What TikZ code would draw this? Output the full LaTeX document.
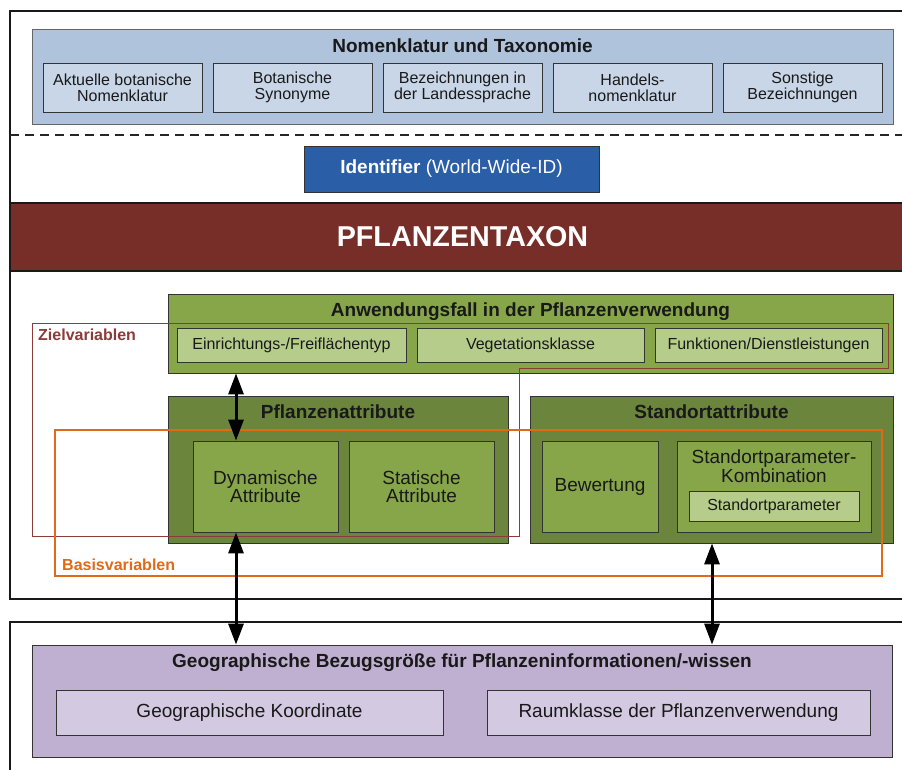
\documentclass[tikz,border=0pt]{standalone}
\usepackage{fontspec}
\setmainfont{Liberation Sans}
\usetikzlibrary{arrows.meta}
\definecolor{nomout}{HTML}{B0C3DD}
\definecolor{nomin}{HTML}{C8D6E8}
\definecolor{idblue}{HTML}{2A5EA6}
\definecolor{taxred}{HTML}{772E28}
\definecolor{grnmid}{HTML}{87A64A}
\definecolor{grnlight}{HTML}{B5CC8A}
\definecolor{grndark}{HTML}{6C853C}
\definecolor{purout}{HTML}{BFAFD0}
\definecolor{purin}{HTML}{D3C9E1}
\definecolor{zielc}{HTML}{8C3B38}
\definecolor{basisc}{HTML}{E06A18}
\newcommand\myS{\fontsize{16}{16.2}\selectfont}
\newcommand\myM{\fontsize{19}{18.5}\selectfont}
\newcommand\myB{\fontsize{28.7}{30}\selectfont}
\begin{document}
\begin{tikzpicture}[x=1pt,y=-1pt,
  box/.style={draw=black!80, line width=0.8pt, inner sep=0pt, align=center, text=black!90},
  titletext/.style={inner sep=0pt, font=\myM\bfseries, text=black!90},
  frameline/.style={line width=1.6pt, black!90},
  dblarrow/.style={line width=3pt, {Triangle[length=21pt,width=15pt]}-{Triangle[length=21pt,width=15pt]}},
  onearrow/.style={line width=3pt, -{Triangle[length=21pt,width=15pt]}}
]
\useasboundingbox (0,0) rectangle (902,769);
\fill[white] (0,0) rectangle (902,769);

% frames
\draw[frameline] (910,11) -- (10,11) -- (10,599) -- (910,599);
\draw[frameline] (910,622) -- (10,622) -- (10,775);
\draw[line width=1.2pt, dash pattern=on 9pt off 6pt, black!85] (10,135) -- (910,135);

% Nomenklatur
\node[box, draw=black!60, fill=nomout, minimum width=861pt, minimum height=95pt] (nom) at (462.5,76.5) {};
\node[titletext] (nomt) at (462.5,46) {Nomenklatur und Taxonomie};
\node[box, fill=nomin, font=\myS, minimum width=159pt, minimum height=49pt] (n1) at (122.5,87.5) {Aktuelle botanische\\Nomenklatur};
\node[box, fill=nomin, font=\myS, minimum width=159pt, minimum height=49pt] (n2) at (292.5,87.5) {Botanische\\Synonyme};
\node[box, fill=nomin, font=\myS, minimum width=159pt, minimum height=49pt] (n3) at (462.5,87.5) {Bezeichnungen in\\der Landessprache};
\node[box, fill=nomin, font=\myS, minimum width=159pt, minimum height=49pt] (n4) at (632.5,87.5) {Handels-\\nomenklatur};
\node[box, fill=nomin, font=\myS, minimum width=159pt, minimum height=49pt] (n5) at (802.5,87.5) {Sonstige\\Bezeichnungen};

% Identifier
\node[box, fill=idblue, text=white, font=\myM, minimum width=295pt, minimum height=46pt] (ident) at (451.5,169) {\textbf{Identifier} (World-Wide-ID)};

% Taxon band
\node[box, draw=black!90, line width=1.6pt, fill=taxred, text=white, font=\myB\bfseries, minimum width=905pt, minimum height=68pt] (taxon) at (462.5,237) {PFLANZENTAXON};

% Anwendungsfall
\node[box, fill=grnmid, minimum width=725pt, minimum height=79pt] (anw) at (530.5,333.5) {};
\node[titletext] (anwt) at (530.5,312) {Anwendungsfall in der Pflanzenverwendung};
\node[box, fill=grnlight, font=\myS, minimum width=229pt, minimum height=34pt] (a1) at (291.5,345) {Einrichtungs-/Freiflächentyp};
\node[box, fill=grnlight, font=\myS, minimum width=227pt, minimum height=34pt] (a2) at (530.5,345) {Vegetationsklasse};
\node[box, fill=grnlight, font=\myS, minimum width=227pt, minimum height=34pt] (a3) at (768.5,345) {Funktionen/Dienstleistungen};

% Pflanzenattribute
\node[box, fill=grndark, minimum width=340pt, minimum height=147pt] (pfl) at (338,469.5) {};
\node[titletext] (pflt) at (338,412) {Pflanzenattribute};
\node[box, fill=grnmid, font=\myM, minimum width=145pt, minimum height=91pt] (dyn) at (265.5,486.5) {Dynamische\\Attribute};
\node[box, fill=grnmid, font=\myM, minimum width=145pt, minimum height=91pt] (sta) at (421.5,486.5) {Statische\\Attribute};

% Standortattribute
\node[box, fill=grndark, minimum width=363pt, minimum height=147pt] (std) at (711.5,469.5) {};
\node[titletext] (stdt) at (711.5,412) {Standortattribute};
\node[box, fill=grnmid, font=\myM, minimum width=116pt, minimum height=91pt] (bew) at (600,486.5) {Bewertung};
\node[box, fill=grnmid, minimum width=194pt, minimum height=91pt] (spk) at (774,486.5) {};
\node[inner sep=0pt, align=center, font=\myM, text=black!90] (spkt) at (774,466) {Standortparameter-\\Kombination};
\node[box, fill=grnlight, font=\myS, minimum width=170pt, minimum height=30pt] (sp) at (774,506) {Standortparameter};

% Ziel- und Basisvariablen
\draw[zielc, line width=1pt] (32,323) -- (888,323) -- (888,368) -- (519,368) -- (519,536) -- (32,536) -- cycle;
\node[anchor=west, inner sep=0pt, font=\myS\bfseries, text=zielc] (ziel) at (38,335) {Zielvariablen};
\draw[basisc, line width=1.3pt] (55,430) rectangle (882,576);
\node[anchor=west, inner sep=0pt, font=\myS\bfseries, text=basisc] (basis) at (62,565) {Basisvariablen};

% Geographische Bezugsgroesse
\node[box, fill=purout, minimum width=860pt, minimum height=112pt] (geo) at (462,701) {};
\node[titletext] (geot) at (462,663) {Geographische Bezugsgröße für Pflanzeninformationen/-wissen};
\node[box, fill=purin, font=\myM, minimum width=387pt, minimum height=45pt] (g1) at (249.5,712.5) {Geographische Koordinate};
\node[box, fill=purin, font=\myM, minimum width=383pt, minimum height=45pt] (g2) at (678.5,712.5) {Raumklasse der Pflanzenverwendung};

% arrows
\coordinate (axl) at (236,0);
\coordinate (axr) at (712,0);
\draw[dblarrow] (anw.south -| axl) -- (dyn.north -| axl);
\draw[dblarrow] (dyn.south -| axl) -- (geo.north -| axl);
\draw[dblarrow] (std.south -| axr) -- (geo.north -| axr);
\end{tikzpicture}
\end{document}
